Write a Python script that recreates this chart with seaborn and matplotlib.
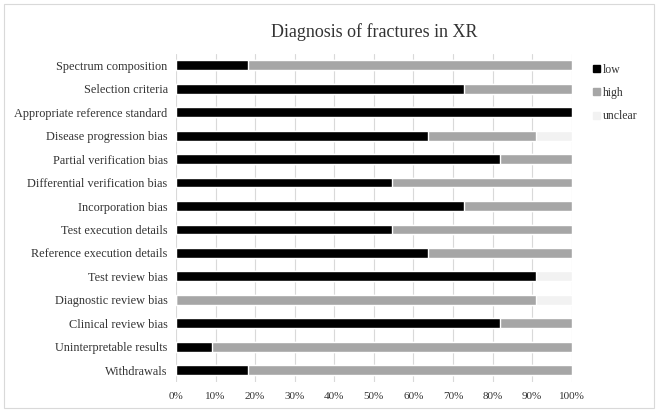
import pandas as pd
import matplotlib.pyplot as plt
import seaborn as sns
from matplotlib.patches import Patch, Rectangle

# data: number of studies (out of 11) per rating
items = ["Spectrum composition", "Selection criteria", "Appropriate reference standard",
         "Disease progression bias", "Partial verification bias", "Differential verification bias",
         "Incorporation bias", "Test execution details", "Reference execution details",
         "Test review bias", "Diagnostic review bias", "Clinical review bias",
         "Uninterpretable results", "Withdrawals"]
low = [2, 8, 11, 7, 9, 6, 8, 6, 7, 10, 0, 9, 1, 2]
high = [9, 3, 0, 3, 2, 5, 3, 5, 4, 0, 10, 2, 10, 9]
unclear = [0, 0, 0, 1, 0, 0, 0, 0, 0, 1, 1, 0, 0, 0]

df = pd.DataFrame({"item": items, "low": low, "high": high, "unclear": unclear})
total = df["low"] + df["high"] + df["unclear"]
df["p_low"] = df["low"] / total * 100
df["p_high"] = df["p_low"] + df["high"] / total * 100
df["p_unclear"] = df["p_high"] + df["unclear"] / total * 100

sns.set_style("white")
plt.rcParams["font.family"] = ["Liberation Serif", "DejaVu Serif"]

colors = {"low": "#000000", "high": "#a6a6a6", "unclear": "#f2f2f2"}
txt = "#333333"

fig = plt.figure(figsize=(6.58, 4.12), dpi=100)
ax = fig.add_axes([0.2675, 0.073, 0.6015, 0.797])

# stacked bars: draw cumulative totals back to front
for col, key in [("p_unclear", "unclear"), ("p_high", "high"), ("p_low", "low")]:
    sns.barplot(data=df, x=col, y="item", orient="h", color=colors[key],
                width=0.42, ax=ax, saturation=1)

ax.set_xlim(0, 100)
ax.set_xticks(range(0, 101, 10))
ax.set_xticklabels([f"{t}%" for t in range(0, 101, 10)], fontsize=8, color=txt)
ax.tick_params(axis="y", labelsize=8.8, labelcolor=txt, length=0, pad=6)
ax.tick_params(axis="x", length=0, pad=7)
ax.set_xlabel("")
ax.set_ylabel("")
ax.grid(axis="x", color="#d9d9d9", linewidth=0.8)
ax.set_axisbelow(True)
for s in ax.spines.values():
    s.set_visible(False)

ax.set_title("Diagnosis of fractures in XR", fontsize=13, color=txt, pad=12)

handles = [Patch(color=colors[k], label=k) for k in ["low", "high", "unclear"]]
fig.legend(handles=handles, loc="upper left", bbox_to_anchor=(0.889, 0.865),
           frameon=False, fontsize=8.5, handlelength=0.55, handleheight=0.55,
           handletextpad=0.25, labelspacing=0.95, labelcolor=txt, borderpad=0.2)

fig.patches.append(Rectangle((0.006, 0.01), 0.988, 0.98, transform=fig.transFigure,
                             fill=False, edgecolor="#d9d9d9", linewidth=0.8))

fig.savefig("out.png", dpi=100)
